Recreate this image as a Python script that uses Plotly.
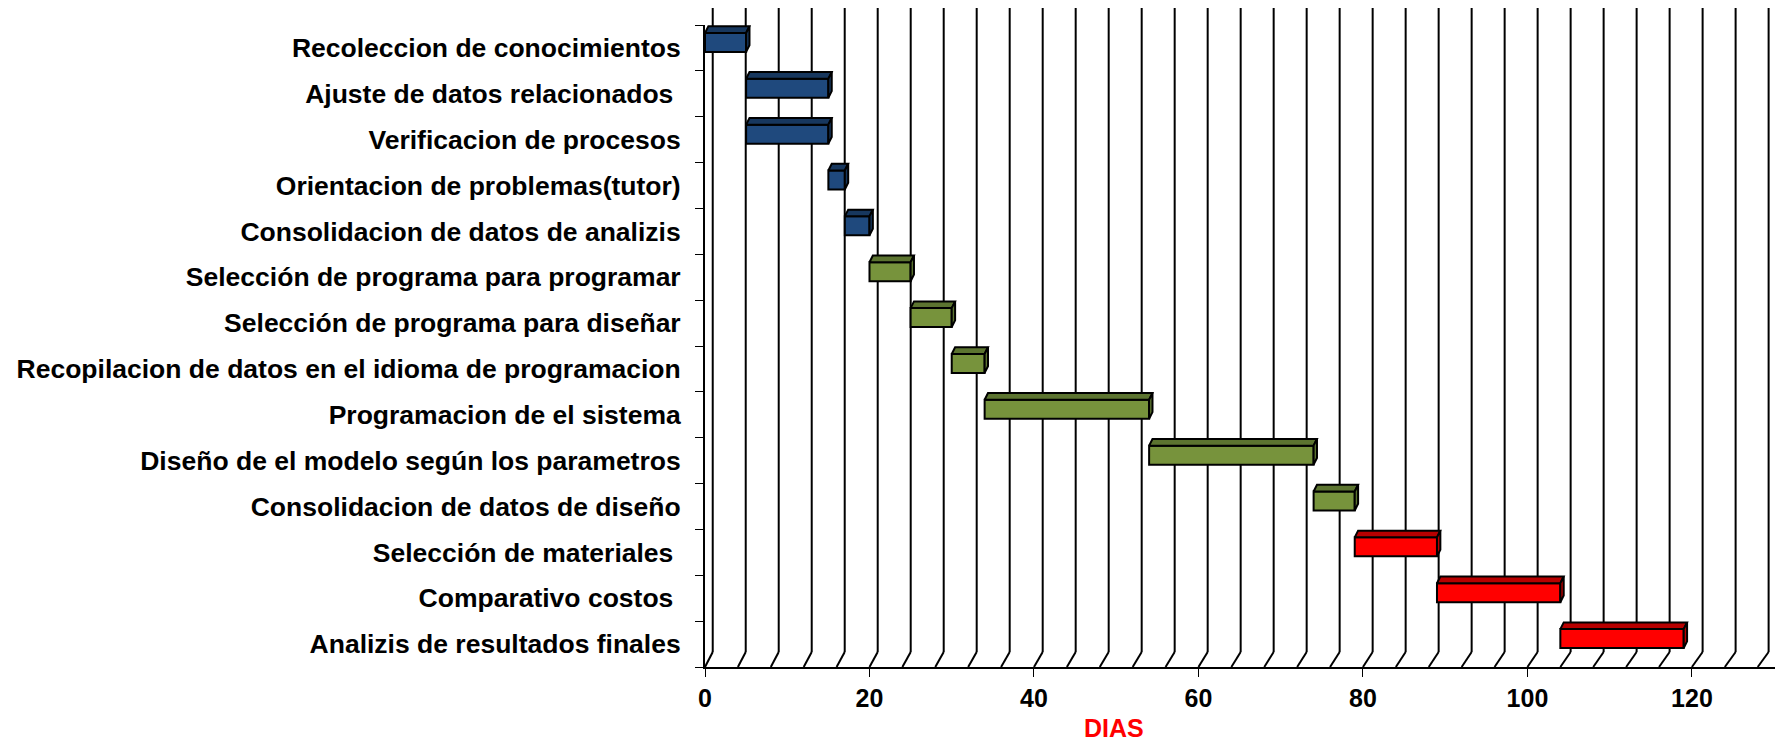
import plotly.graph_objects as go

# ---------------- data ----------------
tasks = [
    "Recoleccion de conocimientos",
    "Ajuste de datos relacionados ",
    "Verificacion de procesos",
    "Orientacion de problemas(tutor)",
    "Consolidacion de datos de analizis",
    "Selección de programa para programar",
    "Selección de programa para diseñar",
    "Recopilacion de datos en el idioma de programacion",
    "Programacion de el sistema",
    "Diseño de el modelo según los parametros",
    "Consolidacion de datos de diseño",
    "Selección de materiales ",
    "Comparativo costos ",
    "Analizis de resultados finales",
]
start_days = [0, 5, 5, 15, 17, 20, 25, 30, 34, 54, 74, 79, 89, 104]
duration_days = [5, 10, 10, 2, 3, 5, 5, 4, 20, 20, 5, 10, 15, 15]
phase = ["A"] * 5 + ["B"] * 6 + ["C"] * 3
x_ticks = [0, 20, 40, 60, 80, 100, 120]
x_title = "DIAS"

# ---------------- styles ----------------
front_col = {"A": "#1F497D", "B": "#77933C", "C": "#FF0000"}
dark_col = {"A": "#17375E", "B": "#5C7430", "C": "#B80000"}
FONT = "Arial, Liberation Sans, sans-serif"
X_MAX = 130.1
GRID_STEP = 4
depth_dx = 0.41      # bar depth shift (days)
depth_dy = 0.146     # bar depth shift (category units)
front_off = -0.327
front_w = 0.414
wall_dx = 0.94       # back wall shift (days)
wall_scale = 1.003

n = len(tasks)
ypos = list(range(n))

fig = go.Figure()

# front faces
fig.add_trace(go.Bar(
    y=ypos, x=duration_days, base=start_days, orientation="h",
    width=front_w, offset=front_off,
    marker=dict(color=[front_col[p] for p in phase], line=dict(color="black", width=2)),
    hoverinfo="skip",
))

# top and right faces
for key in ["A", "B", "C"]:
    xs_top, ys_top, xs_side, ys_side = [], [], [], []
    for i in range(n):
        if phase[i] != key:
            continue
        x0 = start_days[i]
        x1 = start_days[i] + duration_days[i]
        yt = ypos[i] + front_off
        yb = yt + front_w
        xs_top += [x0, x1, x1 + depth_dx, x0 + depth_dx, x0, None]
        ys_top += [yt, yt, yt - depth_dy, yt - depth_dy, yt, None]
        xs_side += [x1, x1 + depth_dx, x1 + depth_dx, x1, x1, None]
        ys_side += [yt, yt - depth_dy, yb - depth_dy, yb, yt, None]
    for xs, ys in [(xs_top, ys_top), (xs_side, ys_side)]:
        fig.add_trace(go.Scatter(
            x=xs, y=ys, mode="lines", fill="toself", fillcolor=dark_col[key],
            line=dict(color="black", width=2), hoverinfo="skip",
        ))

# back wall gridlines with floor diagonals
plot_h = 742 - 25 - 75
floor_depth = 15 / plot_h
wall_top = (667 - 8) / plot_h
shapes = []
for v in range(0, int(X_MAX), GRID_STEP):
    bx = v * wall_scale + wall_dx
    shapes.append(dict(type="line", xref="x", yref="paper", x0=bx, x1=bx,
                       y0=floor_depth, y1=wall_top, layer="below",
                       line=dict(color="black", width=2)))
    shapes.append(dict(type="line", xref="x", yref="paper", x0=v, x1=bx,
                       y0=0, y1=floor_depth, layer="below",
                       line=dict(color="black", width=2)))

fig.update_layout(
    width=1783, height=742,
    margin=dict(l=705, r=8, t=25, b=75),
    plot_bgcolor="white", paper_bgcolor="white",
    showlegend=False,
    shapes=shapes,
    font=dict(family=FONT, color="black"),
    annotations=[dict(text="<b>%s</b>" % x_title, xref="paper", yref="paper",
                      x=(1114 - 705) / 1070, y=(667 - 728) / plot_h,
                      xanchor="center", yanchor="middle", showarrow=False,
                      font=dict(family=FONT, size=25, color="#FF0000"))],
)
fig.update_xaxes(
    range=[0, X_MAX], showgrid=False, zeroline=False,
    showline=True, linecolor="black", linewidth=2,
    tickmode="array", tickvals=x_ticks, ticktext=["<b>%d</b>" % t for t in x_ticks],
    ticks="outside", ticklen=8, tickwidth=1, tickcolor="black",
    tickfont=dict(family=FONT, size=25, color="black"),
)
fig.update_yaxes(
    range=[n - 0.5, -0.5], showgrid=False, zeroline=False,
    showline=True, linecolor="black", linewidth=2,
    tickmode="array", tickvals=ypos, ticktext=["<b>%s</b>" % t for t in tasks],
    ticks="", ticklabelstandoff=17,
    tickfont=dict(family=FONT, size=26.5, color="black"),
    minor=dict(tickmode="array", tickvals=[i - 0.5 for i in range(n + 1)],
               ticks="outside", ticklen=8, tickwidth=1, tickcolor="black", showgrid=False),
)

fig.write_html("out.html", config={"displayModeBar": False})
with open("out.html", "r", encoding="utf-8") as f:
    html = f.read()
html = html.replace("<body>", '<body style="margin:0;padding:0;">', 1)
with open("out.html", "w", encoding="utf-8") as f:
    f.write(html)
